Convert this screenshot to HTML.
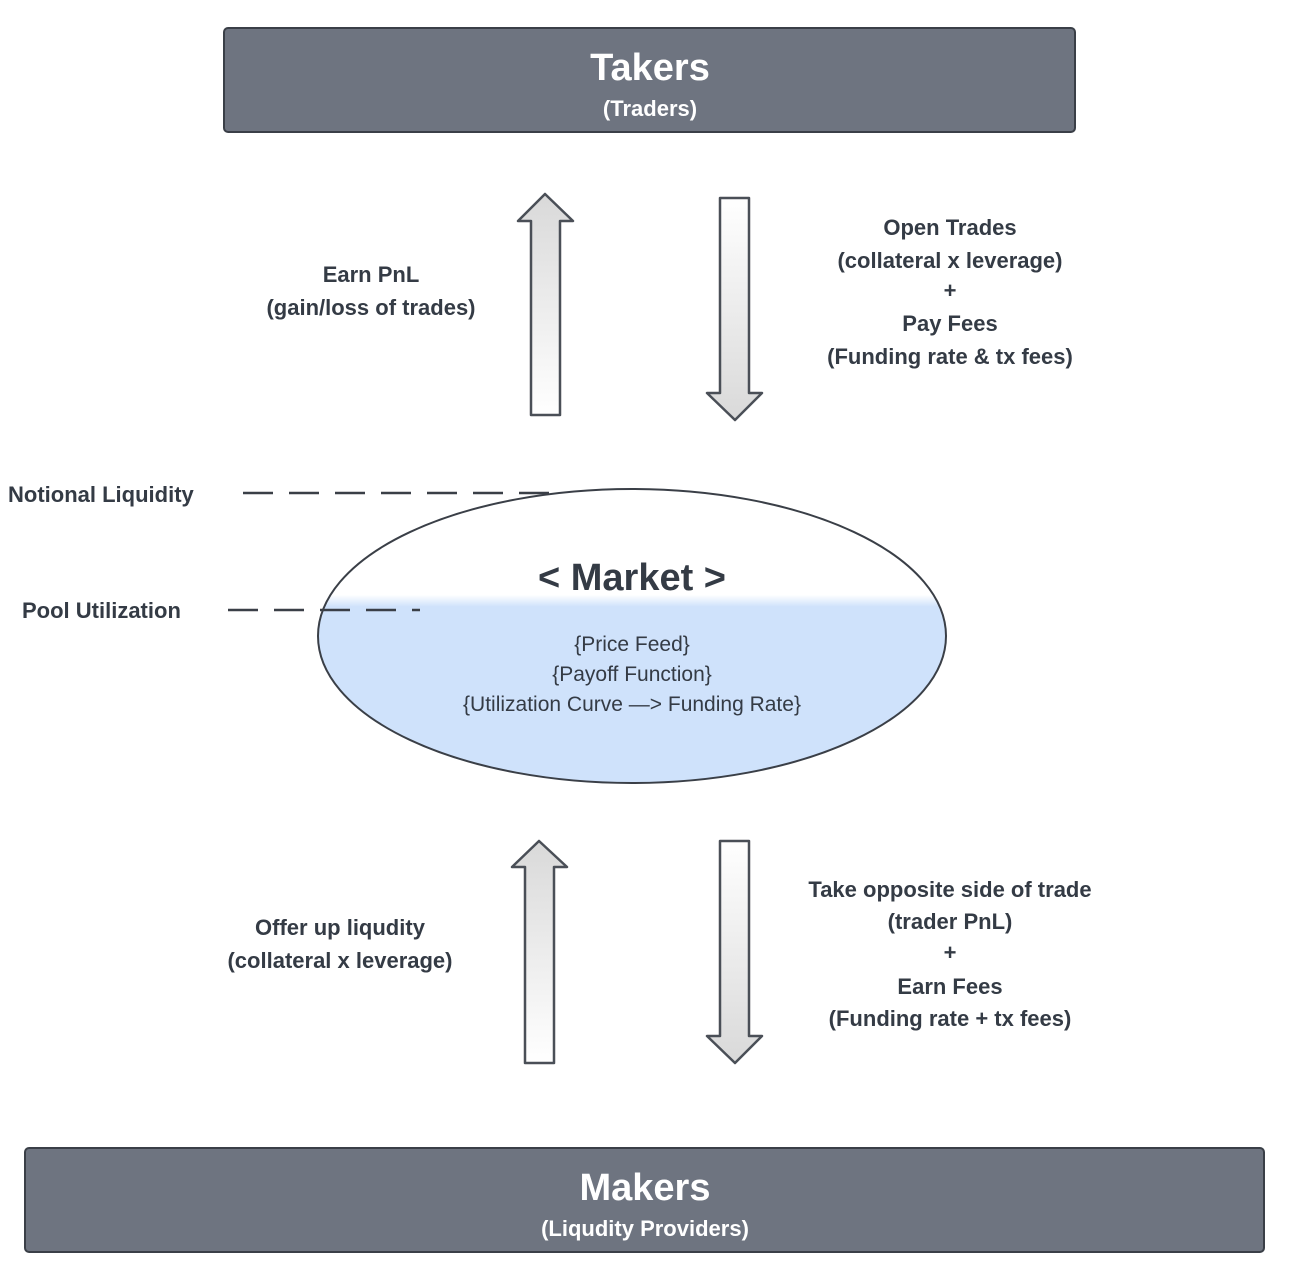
<!DOCTYPE html>
<html><head><meta charset="utf-8"><style>
html,body{margin:0;padding:0;background:#fff;}
svg{display:block;}
text{font-family:"Liberation Sans",sans-serif;fill:#343b45;}
</style></head><body>
<svg width="1300" height="1266" viewBox="0 0 1300 1266" xmlns="http://www.w3.org/2000/svg">
<defs>
<linearGradient id="gu" x1="0" y1="0" x2="0" y2="1"><stop offset="0" stop-color="#d9d9d9"/><stop offset="1" stop-color="#ffffff"/></linearGradient>
<linearGradient id="gd" x1="0" y1="0" x2="0" y2="1"><stop offset="0" stop-color="#ffffff"/><stop offset="1" stop-color="#d9d9d9"/></linearGradient>
<linearGradient id="ge" x1="0" y1="0" x2="0" y2="1">
<stop offset="0" stop-color="#fff"/><stop offset="0.36" stop-color="#fff"/><stop offset="0.4" stop-color="#cfe2fb"/><stop offset="1" stop-color="#cfe2fb"/></linearGradient>
</defs>
<rect x="224" y="28" width="851" height="104" rx="4" fill="#6e7480" stroke="#3a3f47" stroke-width="2"/>
<text x="650" y="80" text-anchor="middle" font-size="38" font-weight="bold" style="fill:#fff">Takers</text>
<text x="650" y="116" text-anchor="middle" font-size="22" font-weight="bold" style="fill:#fff">(Traders)</text>
<rect x="25" y="1148" width="1239" height="104" rx="4" fill="#6e7480" stroke="#3a3f47" stroke-width="2"/>
<text x="645" y="1200" text-anchor="middle" font-size="38" font-weight="bold" style="fill:#fff">Makers</text>
<text x="645" y="1236" text-anchor="middle" font-size="22" font-weight="bold" style="fill:#fff">(Liqudity Providers)</text>
<g stroke="#4a4f57" stroke-width="2.5" stroke-linejoin="round">
<path d="M531 415 L531 221 L518 221 L545 194 L573 221 L560 221 L560 415 Z" fill="url(#gu)"/>
<path d="M720 198 L749 198 L749 393 L762 393 L735 420 L707 393 L720 393 Z" fill="url(#gd)"/>
<path d="M525 1063 L525 867 L512 867 L539 841 L567 867 L554 867 L554 1063 Z" fill="url(#gu)"/>
<path d="M720 841 L749 841 L749 1036 L762 1036 L735 1063 L707 1036 L720 1036 Z" fill="url(#gd)"/>
</g>
<ellipse cx="632" cy="636" rx="314" ry="147" fill="url(#ge)" stroke="#3a3f47" stroke-width="2"/>
<g stroke="#3a3f47" stroke-width="2.5" stroke-dasharray="30,16">
<line x1="243" y1="493" x2="560" y2="493"/>
<line x1="228" y1="610" x2="420" y2="610"/>
</g>
<text x="632" y="590" text-anchor="middle" font-size="38" font-weight="bold">&lt; Market &gt;</text>
<g font-size="21" text-anchor="middle">
<text x="632" y="651">{Price Feed}</text>
<text x="632" y="681">{Payoff Function}</text>
<text x="632" y="711">{Utilization Curve —&gt; Funding Rate}</text>
</g>
<g font-size="22" font-weight="bold">
<text x="8" y="502">Notional Liquidity</text>
<text x="22" y="618">Pool Utilization</text>
</g>
<g font-size="22" font-weight="bold" text-anchor="middle">
<text x="371" y="282">Earn PnL</text>
<text x="371" y="315">(gain/loss of trades)</text>
<text x="950" y="235">Open Trades</text>
<text x="950" y="268">(collateral x leverage)</text>
<text x="950" y="298">+</text>
<text x="950" y="331">Pay Fees</text>
<text x="950" y="364">(Funding rate &amp; tx fees)</text>
<text x="340" y="935">Offer up liqudity</text>
<text x="340" y="968">(collateral  x leverage)</text>
<text x="950" y="897">Take opposite side of trade</text>
<text x="950" y="929">(trader PnL)</text>
<text x="950" y="960">+</text>
<text x="950" y="994">Earn Fees</text>
<text x="950" y="1026">(Funding rate + tx fees)</text>
</g>
</svg>
</body></html>
